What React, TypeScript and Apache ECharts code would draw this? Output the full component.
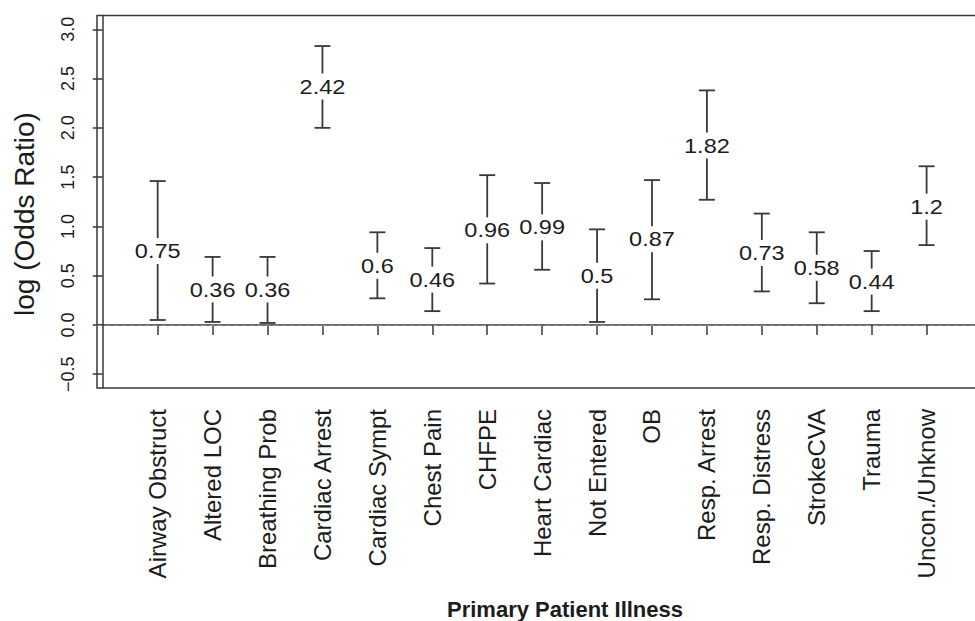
import React, { useEffect, useRef } from "react";
import * as echarts from "echarts";

const categories = [
  "Airway Obstruct", "Altered LOC", "Breathing Prob", "Cardiac Arrest", "Cardiac Sympt",
  "Chest Pain", "CHFPE", "Heart Cardiac", "Not Entered", "OB", "Resp. Arrest",
  "Resp. Distress", "StrokeCVA", "Trauma", "Uncon./Unknow",
];
const estimates = [0.75, 0.36, 0.36, 2.42, 0.6, 0.46, 0.96, 0.99, 0.5, 0.87, 1.82, 0.73, 0.58, 0.44, 1.2];
const lower = [0.05, 0.03, 0.02, 2.0, 0.27, 0.14, 0.42, 0.56, 0.03, 0.26, 1.27, 0.34, 0.22, 0.14, 0.81];
const upper = [1.46, 0.69, 0.69, 2.83, 0.94, 0.78, 1.52, 1.44, 0.97, 1.47, 2.38, 1.13, 0.94, 0.75, 1.61];
const yTicks = [-0.5, 0, 0.5, 1.0, 1.5, 2.0, 2.5, 3.0];
const xTitle = "Primary Patient Illness";
const yTitle = "log (Odds Ratio)";

const FONT = "'Liberation Sans', Arial, Helvetica, sans-serif";
const INK = "#1c1c1c";
const LINE = "#383838";

export default function App() {
  const ref = useRef<HTMLDivElement>(null);
  useEffect(() => {
    if (!ref.current) return;
    document.body.style.overflow = "hidden";
    const chart = echarts.init(ref.current, null, { renderer: "svg" });
    const xPos = categories.map((_, i) => i + 1);
    const data = categories.map((_, i) => [xPos[i], estimates[i], lower[i], upper[i]]);
    const option: any = {
      animation: false,
      backgroundColor: "#ffffff",
      grid: {
        left: 97,
        top: 15.5,
        width: 890,
        height: 372.5,
        show: true,
        borderColor: LINE,
        borderWidth: 1.5,
        backgroundColor: "transparent",
        outerBoundsMode: "none",
        containLabel: false,
      },
      xAxis: {
        type: "value",
        min: -0.105,
        max: 16.1,
        splitLine: { show: false },
        axisLine: { show: true, lineStyle: { color: LINE, width: 1.5 } },
        axisTick: { show: true, length: 10, lineStyle: { color: LINE, width: 1.5 }, customValues: xPos },
        axisLabel: {
          customValues: xPos,
          rotate: 90,
          margin: 21,
          fontSize: 24,
          fontFamily: FONT,
          color: INK,
          formatter: (v: number) => categories[Math.round(v) - 1] ?? "",
        },
      },
      yAxis: {
        type: "value",
        min: -0.64,
        max: 3.14,
        splitLine: { show: false },
        axisLine: { show: true, lineStyle: { color: LINE, width: 1.5 } },
        axisTick: { show: true, length: 10, lineStyle: { color: LINE, width: 1.5 }, customValues: yTicks },
        axisLabel: {
          customValues: yTicks,
          rotate: 90,
          margin: 20,
          fontSize: 18,
          fontFamily: FONT,
          color: INK,
          formatter: (v: number) => (v < 0 ? "\u2212" + Math.abs(v).toFixed(1) : v.toFixed(1)),
        },
      },
      graphic: [
        {
          type: "text",
          x: 24,
          y: 214,
          rotation: Math.PI / 2,
          style: {
            text: yTitle,
            fontSize: 28,
            fontFamily: FONT,
            fill: INK,
            align: "center",
            verticalAlign: "middle",
          },
        },
        {
          type: "text",
          x: 565,
          y: 609,
          style: {
            text: xTitle,
            fontSize: 22,
            fontWeight: "bold",
            fontFamily: FONT,
            fill: INK,
            align: "center",
            verticalAlign: "middle",
          },
        },
      ],
      series: [
        {
          type: "custom",
          data,
          encode: { x: 0, y: [2, 3] },
          renderItem: (params: any, api: any) => {
            const x = api.value(0);
            const est = api.value(1);
            const lo = api.value(2);
            const hi = api.value(3);
            const pLo = api.coord([x, lo]);
            const pHi = api.coord([x, hi]);
            const pE = api.coord([x, est]);
            const gap = 13;
            const cap = 8;
            const ls = { stroke: LINE, lineWidth: 1.8 };
            return {
              type: "group",
              children: [
                { type: "line", shape: { x1: pHi[0], y1: pHi[1], x2: pE[0], y2: pE[1] - gap }, style: ls },
                { type: "line", shape: { x1: pE[0], y1: pE[1] + gap, x2: pLo[0], y2: pLo[1] }, style: ls },
                { type: "line", shape: { x1: pHi[0] - cap, y1: pHi[1], x2: pHi[0] + cap, y2: pHi[1] }, style: ls },
                { type: "line", shape: { x1: pLo[0] - cap, y1: pLo[1], x2: pLo[0] + cap, y2: pLo[1] }, style: ls },
                {
                  type: "text",
                  x: pE[0],
                  y: pE[1],
                  scaleX: 1.12,
                  style: {
                    text: String(est),
                    fontSize: 21,
                    fontFamily: FONT,
                    fill: INK,
                    align: "center",
                    verticalAlign: "middle",
                  },
                },
              ],
            };
          },
          markLine: {
            silent: true,
            symbol: "none",
            label: { show: false },
            lineStyle: { color: "#8c8c8c", type: [5, 3], width: 1 },
            data: [{ yAxis: 0 }],
          },
        },
      ],
    };
    chart.setOption(option);
    return () => chart.dispose();
  }, []);
  return (
    <div
      ref={ref}
      style={{ position: "fixed", left: 0, top: 0, width: 1000, height: 621, overflow: "hidden" }}
    />
  );
}
